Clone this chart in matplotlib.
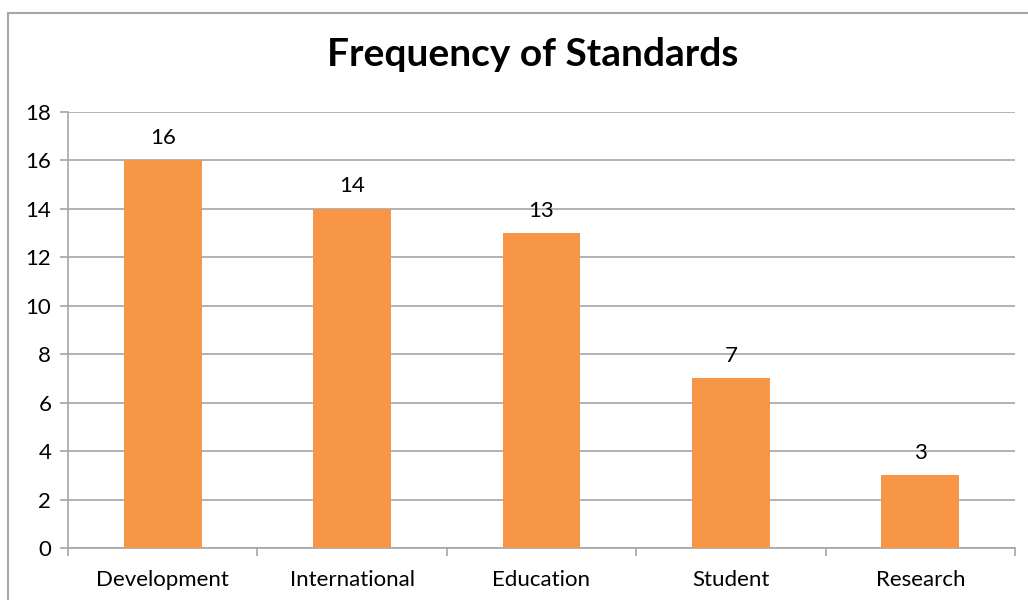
import matplotlib.pyplot as plt
from matplotlib.lines import Line2D

categories = ["Development", "International", "Education", "Student", "Research"]
counts = [16, 14, 13, 7, 3]
y_ticks = [0, 2, 4, 6, 8, 10, 12, 14, 16, 18]

BAR = "#F79646"
GRID = "#A6A6A6"
FONT = "Lato"

fig = plt.figure(figsize=(10.28, 6.0), dpi=100)
W, H = 1028, 600
# plot area in pixels: left 68, right 1015, top 112, bottom 548
ax = fig.add_axes([68 / W, 1 - 548 / H, (1015 - 68) / W, (548 - 112) / H])

x = list(range(len(categories)))
ax.bar(x, counts, width=0.41, color=BAR, zorder=3)

for xi, v in zip(x, counts):
    ax.annotate(str(v), (xi, v), xytext=(0, 9), textcoords="offset points",
                ha="center", va="bottom", fontsize=16, family=FONT, color="black")

ax.set_xlim(-0.5, len(categories) - 0.5)
ax.set_ylim(0, 18)
ax.set_yticks(y_ticks)
ax.set_yticklabels([str(t) for t in y_ticks], family=FONT, fontsize=16)
ax.yaxis.grid(True, color=GRID, linewidth=1.2, zorder=0)

# category labels at centres, tick marks at boundaries
ax.set_xticks(x)
ax.set_xticklabels(categories, family=FONT, fontsize=16)
ax.tick_params(axis="x", length=0, pad=16)
ax.set_xticks([i - 0.5 for i in range(len(categories) + 1)], minor=True)
ax.tick_params(axis="x", which="minor", length=6, color=GRID, width=1.2)
ax.tick_params(axis="y", length=6, color=GRID, width=1.2, pad=6)

for s in ["top", "right"]:
    ax.spines[s].set_visible(False)
for s in ["left", "bottom"]:
    ax.spines[s].set_color(GRID)
    ax.spines[s].set_linewidth(1.2)

fig.text((328 + 738) / 2 / W, 1 - 55 / H, "Frequency of Standards", ha="center",
         va="center", fontsize=28, fontweight="bold", family=FONT)

# chart frame
fig.add_artist(Line2D([8 / W, 8 / W], [0, 1 - 13 / H], color=GRID, linewidth=1.5,
                      transform=fig.transFigure))
fig.add_artist(Line2D([8 / W, 1], [1 - 13 / H, 1 - 13 / H], color=GRID, linewidth=1.5,
                      transform=fig.transFigure))

fig.savefig("out.png", dpi=100)
